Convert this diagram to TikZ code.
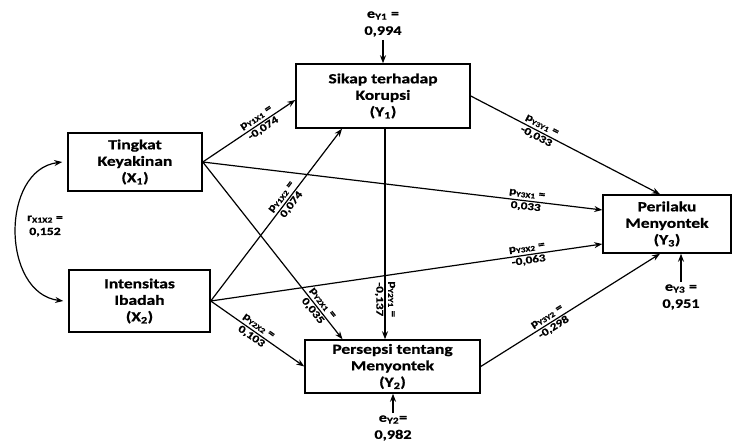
\documentclass[tikz,border=0pt]{standalone}
\usepackage{fontspec}
\setmainfont{Carlito}[FakeStretch=1.25, FakeBold=0.8]
\usetikzlibrary{arrows.meta,calc}
\begin{document}
\begin{tikzpicture}[x=1pt,y=-1pt,
  var/.style={draw, line width=1.5pt, align=center, inner sep=0pt,
    font=\fontsize{14}{16.5}\selectfont\bfseries},
  tip/.style={-{Stealth[length=8pt,width=6pt]}},
  path/.style={line width=1.2pt, tip},
  coef/.style={sloped, align=center, inner sep=0pt,
    font=\fontsize{10.5}{13.5}\selectfont\bfseries},
  note/.style={align=center, inner sep=0pt,
    font=\fontsize{11}{14}\selectfont\bfseries},
  err/.style={align=center, inner sep=0pt,
    font=\fontsize{13}{17}\selectfont\bfseries}]
\useasboundingbox (0,0) rectangle (738,446);

% latent variables
\node[var, minimum width=134pt, minimum height=58pt] (X1) at (135,162)
  {Tingkat\\Keyakinan\\(X\textsubscript{1})};
\node[var, minimum width=141pt, minimum height=62pt] (X2) at (139.5,301)
  {Intensitas\\Ibadah\\(X\textsubscript{2})};
\node[var, minimum width=174pt, minimum height=64pt] (Y1) at (383,96)
  {Sikap terhadap\\Korupsi\\(Y\textsubscript{1})};
\node[var, minimum width=175pt, minimum height=53pt] (Y2) at (392.5,366.5)
  {Persepsi tentang\\Menyontek\\(Y\textsubscript{2})};
\node[var, minimum width=128pt, minimum height=58pt] (Y3) at (667,224)
  {Perilaku\\Menyontek\\(Y\textsubscript{3})};

% residual terms
\node[err] (e1) at (383,24) {e\textsubscript{Y1} =\\0,994};
\node[err] (e2) at (393,428) {e\textsubscript{Y2}=\\0,982};
\node[err] (e3) at (681,297) {e\textsubscript{Y3} =\\0,951};
\draw[path] ([yshift=-3pt]e1.south) -- (Y1.north);
\draw[path] ([yshift=2pt]e2.north) -- (e2.north |- Y2.south);
\draw[path] ([yshift=2pt]e3.north) -- (e3.north |- Y3.south);

% correlation between the exogenous variables
\draw[line width=1.2pt, {Stealth[length=8pt,width=6pt]}-{Stealth[length=8pt,width=6pt]}]
  ([xshift=-5pt]X1.west) .. controls +(-62,8) and +(-62,-8) .. ([xshift=-5pt]X2.west);
\node[note] (r) at (45,226) {r\textsubscript{X1X2} =\\0,152};

% path coefficients
\draw[path] (X1.east) -- node[coef, pos=0.62] {p\textsubscript{Y1X1} =\\-0,074}
  ([yshift=-4pt]Y1.west);
\draw[path] (X2.east) -- node[coef, pos=0.58] {p\textsubscript{Y1X2} =\\0,074}
  ([xshift=-41pt]Y1.south);
\draw[path] (X1.east) -- node[coef, pos=0.81] {p\textsubscript{Y3X1} =\\0,033}
  ([yshift=14pt]Y3.west);
\draw[path] (X2.east) -- node[coef, pos=0.81] {p\textsubscript{Y3X2} =\\-0,063}
  ([yshift=-20pt]Y3.west);
\draw[path] (X1.east) -- node[coef, pos=0.82] {p\textsubscript{Y2X1} =\\0,035}
  ([xshift=-50pt]Y2.north);
\draw[path] (X2.east) -- node[coef, pos=0.47] {p\textsubscript{Y2X2} =\\0,103}
  (Y2.west);
\draw[path] ([xshift=2pt]Y1.south) -- node[coef, sloped=false, rotate=-90, pos=0.81]
  {p\textsubscript{Y2Y1} =\\-0,137} ([xshift=2pt]Y1.south |- Y2.north);
\draw[path] (Y1.east) -- node[coef, pos=0.36] {p\textsubscript{Y3Y1} =\\-0,033}
  ([xshift=-7pt]Y3.north);
\draw[path] (Y2.east) -- node[coef, pos=0.39] {p\textsubscript{Y3Y2} =\\-0,298}
  ([xshift=-7pt]Y3.south);
\end{tikzpicture}
\end{document}
